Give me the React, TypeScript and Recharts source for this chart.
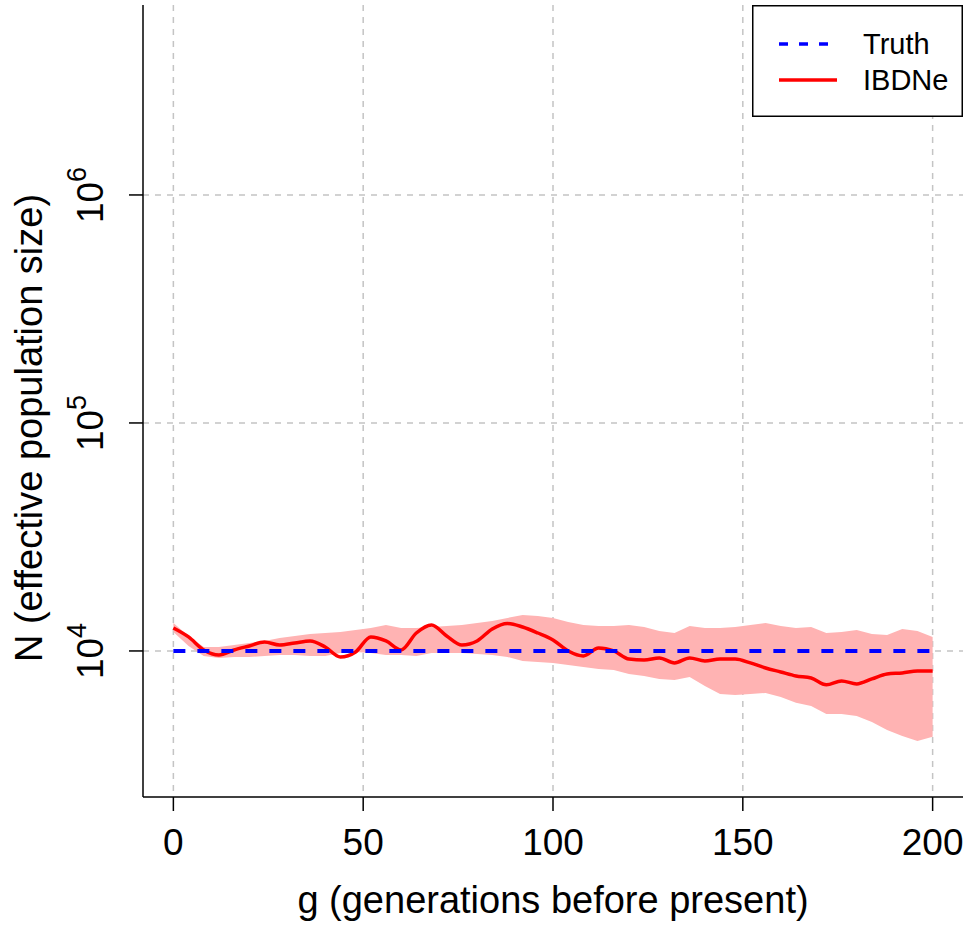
import React from 'react'
import {
  ComposedChart,
  Area,
  Line,
  XAxis,
  YAxis,
  CartesianGrid,
  Legend,
  Label,
} from 'recharts'

// generations before present
const GENERATIONS = [
  0, 4, 8, 12, 16, 20, 24, 28, 32, 36, 40, 44, 48, 52, 56, 60, 64, 68, 72, 76,
  80, 84, 88, 92, 96, 100, 104, 108, 112, 116, 120, 124, 128, 132, 136, 140,
  144, 148, 152, 156, 160, 164, 168, 172, 176, 180, 184, 188, 192, 196, 200,
]

const IBDNE = [
  12610, 11520, 10100, 9600, 10100, 10520, 10950, 10620, 10840, 11060, 10410,
  9410, 9900, 11520, 11060, 10100, 11990, 13000, 11640, 10620, 11060, 12490,
  13200, 12740, 11990, 11170, 10000, 9510, 10310, 10000, 9220, 9130, 9320,
  8860, 9320, 9040, 9220, 9220, 8860, 8420, 8090, 7770, 7610, 7100, 7390, 7170,
  7540, 7930, 8010, 8170, 8170,
]

const CI_UPPER = [
  13270, 11640, 10410, 10410, 10620, 10840, 11060, 11400, 11640, 11870, 11990,
  12110, 12360, 12610, 13000, 12610, 12610, 12740, 12870, 13000, 13270, 13540,
  13960, 14390, 14240, 13960, 13400, 13000, 12870, 12870, 13000, 12740, 12240,
  11990, 12870, 12610, 12610, 12740, 13000, 13270, 12870, 12610, 12740, 11990,
  12110, 12360, 11870, 11750, 12490, 12240, 11520,
]

const CI_LOWER = [
  12110, 10520, 9510, 9320, 9410, 9410, 9510, 9600, 9600, 9510, 9510, 9800,
  9900, 9800, 9600, 9600, 9510, 9800, 9800, 9800, 9700, 9600, 9410, 9040, 8950,
  8860, 8680, 8510, 8340, 8250, 7930, 7770, 7540, 7460, 7690, 7020, 6480, 6410,
  6480, 6540, 6280, 5920, 5740, 5290, 5290, 5190, 4880, 4500, 4240, 4030, 4200,
]

const TRUTH_N = 10000

const X_TICKS = [0, 50, 100, 150, 200]
const Y_TICKS = [10000, 100000, 1000000]

const data = GENERATIONS.map((g, i) => ({
  g,
  ibdne: IBDNE[i],
  band: [CI_LOWER[i], CI_UPPER[i]],
  truth: TRUTH_N,
}))

const FONT = '"Liberation Sans", Arial, sans-serif'

const XTick = (props: any) => {
  const { x, y, payload } = props
  return (
    <text x={x} y={y + 42} textAnchor="middle" fontSize={37} fill="#000" fontFamily={FONT}>
      {payload.value}
    </text>
  )
}

const YTick = (props: any) => {
  const { y, payload } = props
  const exp = Math.round(Math.log10(payload.value))
  const bx = 103
  return (
    <text
      x={bx}
      y={y}
      transform={`rotate(-90, ${bx}, ${y})`}
      textAnchor="middle"
      fontSize={37}
      fill="#000"
      fontFamily={FONT}
    >
      <tspan>10</tspan>
      <tspan dy={-17} fontSize={27}>{exp}</tspan>
    </text>
  )
}

const LegendBox = () => (
  <svg width={211} height={112} style={{ display: 'block' }}>
    <rect x={0.75} y={0.75} width={209.5} height={110.5} fill="#fff" stroke="#000" strokeWidth={1.5} />
    <line x1={27} x2={85} y1={39} y2={39} stroke="#0000ff" strokeWidth={3.5} strokeDasharray="9 11" />
    <line x1={27} x2={85} y1={75} y2={75} stroke="#ff0000" strokeWidth={3.5} />
    <text x={111} y={49} fontSize={29} fontFamily={FONT} fill="#000">Truth</text>
    <text x={111} y={85} fontSize={29} fontFamily={FONT} fill="#000">IBDNe</text>
  </svg>
)

export default function App() {
  return (
    <div style={{ width: 969, height: 926, background: '#fff' }}>
      <style>{'body{margin:0}'}</style>
      <ComposedChart
        width={969}
        height={926}
        data={data}
        margin={{ top: 5, right: 6, left: 0, bottom: 0 }}
        style={{ fontFamily: FONT }}
      >
        <CartesianGrid
          stroke="#c4c4c4"
          strokeWidth={1.5}
          strokeDasharray="6 6"
          horizontalValues={Y_TICKS}
          verticalValues={X_TICKS}
        />
        <XAxis
          dataKey="g"
          type="number"
          domain={[-8, 208]}
          ticks={X_TICKS}
          allowDataOverflow
          height={129}
          tickSize={14}
          tickMargin={2}
          tick={<XTick />}
          axisLine={{ stroke: '#000', strokeWidth: 1.5 }}
          tickLine={{ stroke: '#000', strokeWidth: 1.5 }}
        >
          <Label
            content={() => (
              <text x={553} y={913} textAnchor="middle" fontSize={38} fill="#000" fontFamily={FONT}>
                g (generations before present)
              </text>
            )}
          />
        </XAxis>
        <XAxis
          xAxisId="top"
          orientation="top"
          dataKey="g"
          type="number"
          domain={[-8, 208]}
          height={0}
          tick={false}
          tickLine={false}
          axisLine={{ stroke: '#000', strokeWidth: 1.5 }}
        />
        <YAxis
          scale="log"
          type="number"
          domain={[2288, 6810000]}
          ticks={Y_TICKS}
          allowDataOverflow
          width={143}
          tickSize={14}
          tick={<YTick />}
          axisLine={{ stroke: '#000', strokeWidth: 1.5 }}
          tickLine={{ stroke: '#000', strokeWidth: 1.5 }}
        >
          <Label
            content={() => (
              <text
                x={42}
                y={428}
                transform="rotate(-90, 42, 428)"
                textAnchor="middle"
                fontSize={38}
                fill="#000"
                fontFamily={FONT}
              >
                N (effective population size)
              </text>
            )}
          />
        </YAxis>
        <YAxis
          yAxisId="right"
          orientation="right"
          scale="log"
          type="number"
          domain={[2288, 6810000]}
          width={0}
          tick={false}
          tickLine={false}
          axisLine={{ stroke: '#000', strokeWidth: 1.5 }}
        />
        <Area
          dataKey="band"
          type="linear"
          stroke="none"
          fill="#ffb3b3"
          fillOpacity={1}
          isAnimationActive={false}
          legendType="none"
        />
        <Line
          dataKey="ibdne"
          name="IBDNe"
          type="monotone"
          stroke="#ff0000"
          strokeWidth={3.5}
          dot={false}
          isAnimationActive={false}
        />
        <Line
          dataKey="truth"
          name="Truth"
          type="linear"
          stroke="#0000ff"
          strokeWidth={4}
          strokeDasharray="12 12"
          dot={false}
          isAnimationActive={false}
        />
        <Legend
          layout="horizontal"
          verticalAlign="middle"
          align="center"
          wrapperStyle={{ top: 5, left: 752, width: 211, height: 112 }}
          content={() => <LegendBox />}
        />
      </ComposedChart>
    </div>
  )
}
